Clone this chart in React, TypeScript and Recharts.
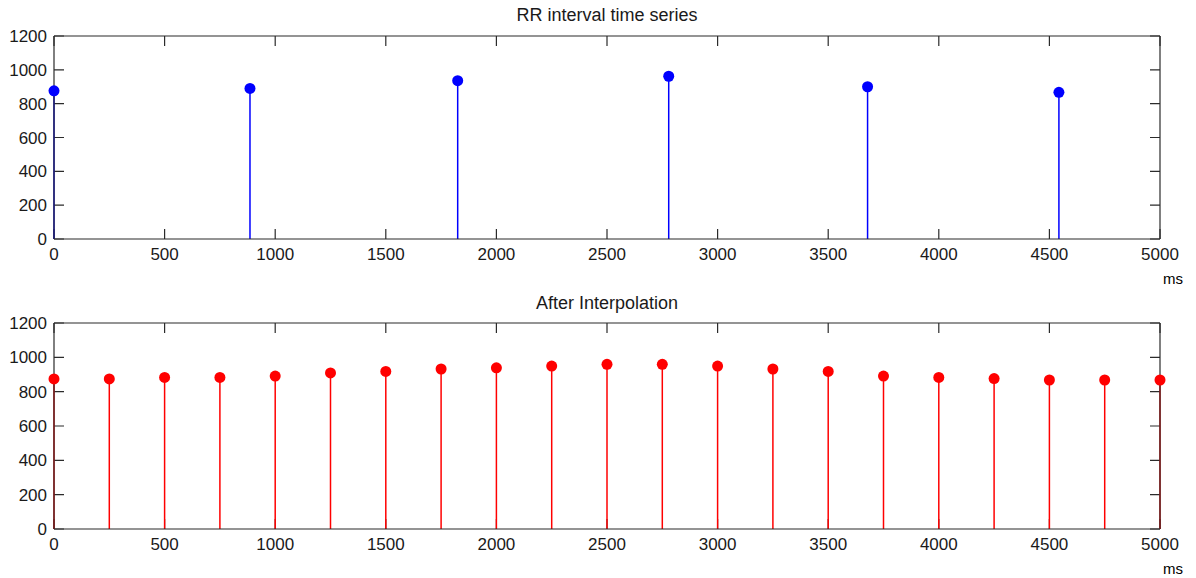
import { ComposedChart, Scatter, XAxis, YAxis, ErrorBar, ReferenceLine } from "recharts"

// RR interval series (ms) — raw beats
const rrTimes = [0, 886, 1825, 2779, 3678, 4543]
const rrValues = [876, 890, 936, 962, 900, 867]

// resampled at 250 ms
const interpTimes = [0, 250, 500, 750, 1000, 1250, 1500, 1750, 2000, 2250, 2500, 2750, 3000, 3250, 3500, 3750, 4000, 4250, 4500, 4750, 5000]
const interpValues = [874, 874, 883, 883, 891, 909, 918, 932, 939, 949, 959, 959, 949, 932, 918, 891, 883, 876, 868, 868, 868]

const xTicks = [0, 500, 1000, 1500, 2000, 2500, 3000, 3500, 4000, 4500, 5000]
const yTicks = [0, 200, 400, 600, 800, 1000, 1200]

const FONT = "'Liberation Sans', Arial, sans-serif"
const AXIS = "#2b2b2b"
const TXT = "#1a1a1a"
const TICK_LEN = 10
const lineStyle = { stroke: AXIS, strokeWidth: 1.2 }

const rrData = rrTimes.map((t, i) => ({ t, v: rrValues[i] }))
const interpData = interpTimes.map((t, i) => ({ t, v: interpValues[i] }))

const BottomLabel = (p: any) => (
  <text x={p.x} y={p.y + 21} textAnchor="middle" fontSize={17} fontFamily={FONT} fill={TXT}>
    {p.payload.value}
  </text>
)
const LeftLabel = (p: any) => (
  <text x={p.x - 7} y={p.y + 6} textAnchor="end" fontSize={17} fontFamily={FONT} fill={TXT}>
    {p.payload.value}
  </text>
)

// matlab style: short tick marks pointing into the box from both ends of a reference line
const TickMarks = (p: any) => {
  const dx = Math.sign(p.x2 - p.x1) * TICK_LEN
  const dy = Math.sign(p.y2 - p.y1) * TICK_LEN
  return (
    <path
      d={`M${p.x1},${p.y1}L${p.x1 + dx},${p.y1 + dy}M${p.x2},${p.y2}L${p.x2 - dx},${p.y2 - dy}`}
      stroke={AXIS}
      strokeWidth={1.2}
      fill="none"
    />
  )
}

type StemProps = {
  data: { t: number; v: number }[]
  color: string
  topH: number
  bottomH: number
}

function StemPlot({ data, color, topH, bottomH }: StemProps) {
  const dot = (p: any) => <circle cx={p.cx} cy={p.cy} r={5.5} fill={color} />
  return (
    <ComposedChart width={1196} height={289} data={data} margin={{ top: 0, right: 0, bottom: 0, left: 0 }}>
      <XAxis
        xAxisId="b"
        dataKey="t"
        type="number"
        domain={[0, 5000]}
        ticks={xTicks}
        orientation="bottom"
        height={bottomH}
        tickSize={0}
        tickMargin={0}
        axisLine={lineStyle}
        tickLine={false}
        tick={BottomLabel}
        interval={0}
      />
      <XAxis
        xAxisId="t"
        dataKey="t"
        type="number"
        domain={[0, 5000]}
        orientation="top"
        height={topH}
        axisLine={lineStyle}
        tickLine={false}
        tick={false}
      />
      <YAxis
        yAxisId="l"
        type="number"
        domain={[0, 1200]}
        ticks={yTicks}
        width={54}
        tickSize={0}
        tickMargin={0}
        axisLine={lineStyle}
        tickLine={false}
        tick={LeftLabel}
        interval={0}
      />
      <YAxis
        yAxisId="r"
        orientation="right"
        type="number"
        domain={[0, 1200]}
        width={36}
        axisLine={lineStyle}
        tickLine={false}
        tick={false}
      />
      {yTicks.map((v) => (
        <ReferenceLine key={`y${v}`} xAxisId="b" yAxisId="l" y={v} shape={TickMarks} />
      ))}
      {xTicks.map((v) => (
        <ReferenceLine key={`x${v}`} xAxisId="b" yAxisId="l" x={v} shape={TickMarks} />
      ))}
      <Scatter xAxisId="b" yAxisId="l" dataKey="v" fill={color} shape={dot} isAnimationActive={false}>
        <ErrorBar
          direction="y"
          dataKey={(d: any) => [d.v, 0]}
          width={0}
          stroke={color}
          strokeWidth={1.5}
          isAnimationActive={false}
        />
      </Scatter>
    </ComposedChart>
  )
}

const titleStyle = {
  position: "absolute" as const,
  left: 54,
  width: 1106,
  textAlign: "center" as const,
  fontFamily: FONT,
  fontSize: 18,
  lineHeight: "18px",
  color: TXT,
}

const msStyle = {
  position: "absolute" as const,
  left: 1163,
  fontFamily: FONT,
  fontSize: 15,
  lineHeight: "15px",
  color: "#000",
}

export default function App() {
  return (
    <div style={{ position: "fixed", top: 0, left: 0, width: 1196, height: 578, background: "#fff" }}>
      <div style={{ position: "absolute", top: 0, left: 0 }}>
        <StemPlot data={rrData} color="#0000ff" topH={36} bottomH={50} />
      </div>
      <div style={{ position: "absolute", top: 289, left: 0 }}>
        <StemPlot data={interpData} color="#ff0000" topH={34} bottomH={49} />
      </div>
      <div style={{ ...titleStyle, top: 6 }}>RR interval time series</div>
      <div style={{ ...titleStyle, top: 294 }}>After Interpolation</div>
      <div style={{ ...msStyle, top: 271 }}>ms</div>
      <div style={{ ...msStyle, top: 561 }}>ms</div>
    </div>
  )
}
